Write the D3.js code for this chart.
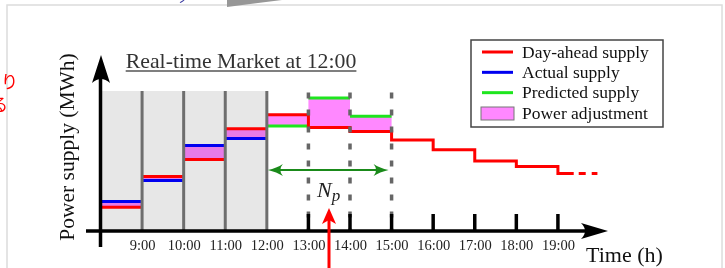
<!DOCTYPE html>
<head>
  <meta charset="utf-8">
  <title>Real-time Market</title>
  <script src="https://cdn.jsdelivr.net/npm/d3@7"></script>
  <style>
    body { margin: 0; background: #fff; }
    svg { display: block; }
    text { font-family: 'Liberation Serif', 'DejaVu Serif', serif; }
    .tick-label text { font-size: 14.5px; fill: #222; }
    .legend text { font-size: 17.5px; fill: #111; }
    .jp { font-family: 'Noto Sans CJK JP', sans-serif; font-size: 17px; fill: #f00; }
  </style>
</head>
<body>
  <script>
    // hourly slots (start hour of each slot)
    var slots = [8, 9, 10, 11, 12, 13, 14, 15, 16, 17, 18, 19];
    var tickHours = [9, 10, 11, 12, 13, 14, 15, 16, 17, 18, 19];
    var tickLabels = ["9:00", "10:00", "11:00", "12:00", "13:00", "14:00", "15:00", "16:00", "17:00", "18:00", "19:00"];

    // supply values (arbitrary MWh units)
    var dayAhead  = [17, 39, 51, 73, 83, 74, 71, 65, 58, 50, 46, 41];
    var actualHours = [8, 9, 10, 11];
    var actual    = [21, 36, 61, 66];
    var predHours = [12, 13, 14];
    var predicted = [75, 95, 82];

    var nowHour = 12;          // real-time market at 12:00
    var horizon = [12, 15];    // N_p window
    var gridHours = [13, 14, 15];
    var tickMarks = [13, 14, 15, 16, 17, 18, 19];

    var legendNames = ["Day-ahead supply", "Actual supply", "Predicted supply", "Power adjustment"];
    var legendColors = ["#f00", "#0000f0", "#1ee61e", "#ff88ff"];

    var W = 725, H = 268;
    var svg = d3.select("body").append("svg")
      .attr("width", W).attr("height", H);

    // slide frame and the bits of slide poking in
    svg.append("rect").attr("x", 7).attr("y", 5).attr("width", 715).attr("height", 300)
      .attr("fill", "#fff").attr("stroke", "#dcdcdc").attr("stroke-width", 1.5);
    svg.append("path").attr("d", "M227,0L282,0L227,7Z").attr("fill", "#979797");
    svg.append("text").attr("x", 178).attr("y", 3).attr("font-size", 12).attr("fill", "#3a3aa0")
      .style("font-family", "'Noto Sans CJK JP', sans-serif").text("ノ");
    svg.append("text").attr("class", "jp").attr("x", 18).attr("y", 88).attr("text-anchor", "end").text("より");
    svg.append("text").attr("class", "jp").attr("x", 8).attr("y", 111).attr("text-anchor", "end").text("する");

    var x = d3.scaleLinear().domain([8, 20]).range([100.5, 599.5]);
    var y = d3.scaleLinear().domain([0, 100]).range([231, 91]);

    var axisY = y(0);

    // past hours background
    svg.append("rect")
      .attr("x", x(8)).attr("y", y(100))
      .attr("width", x(nowHour) - x(8)).attr("height", y(0) - y(100))
      .attr("fill", "#e7e7e7");

    // power adjustment fills
    var adj = [];
    actualHours.forEach(function(h, i) {
      adj.push({h: h, a: actual[i], b: dayAhead[slots.indexOf(h)]});
    });
    predHours.forEach(function(h, i) {
      adj.push({h: h, a: predicted[i], b: dayAhead[slots.indexOf(h)]});
    });
    svg.append("g").selectAll("rect").data(adj).enter().append("rect")
      .attr("x", d => x(d.h)).attr("width", d => x(d.h + 1) - x(d.h))
      .attr("y", d => y(Math.max(d.a, d.b))).attr("height", d => Math.abs(y(d.a) - y(d.b)))
      .attr("fill", "#ff88ff").style("mix-blend-mode", "multiply");

    // past day-ahead and actual segments
    var past = slots.filter(h => h < nowHour);
    svg.append("g").selectAll("line").data(past).enter().append("line")
      .attr("x1", h => x(h)).attr("x2", h => x(h + 1))
      .attr("y1", h => y(dayAhead[slots.indexOf(h)])).attr("y2", h => y(dayAhead[slots.indexOf(h)]))
      .attr("stroke", "#f00").attr("stroke-width", 3);
    svg.append("g").selectAll("line").data(actualHours).enter().append("line")
      .attr("x1", h => x(h)).attr("x2", h => x(h + 1))
      .attr("y1", (h, i) => y(actual[i])).attr("y2", (h, i) => y(actual[i]))
      .attr("stroke", "#0000f0").attr("stroke-width", 3);

    // predicted segments
    svg.append("g").selectAll("line").data(predHours).enter().append("line")
      .attr("x1", h => x(h)).attr("x2", h => x(h + 1))
      .attr("y1", (h, i) => y(predicted[i])).attr("y2", (h, i) => y(predicted[i]))
      .attr("stroke", "#1ee61e").attr("stroke-width", 3);

    // future day-ahead step line
    var future = slots.filter(h => h >= nowHour && h < 19).map(h => ({h: h, v: dayAhead[slots.indexOf(h)]}));
    var lastV = dayAhead[slots.length - 1];
    future.push({h: 19, v: lastV});
    future.push({h: 19.38, v: lastV});
    var step = d3.line().x(d => x(d.h)).y(d => y(d.v)).curve(d3.curveStepAfter);
    svg.append("path").attr("d", step(future))
      .attr("fill", "none").attr("stroke", "#f00").attr("stroke-width", 3);
    svg.append("line")
      .attr("x1", x(19.38)).attr("x2", x(19.95)).attr("y1", y(lastV)).attr("y2", y(lastV))
      .attr("stroke", "#f00").attr("stroke-width", 3).attr("stroke-dasharray", "7,6").attr("stroke-dashoffset", -5);

    // hour separators in past
    svg.append("g").selectAll("line").data(slots.filter(h => h > 8 && h <= nowHour)).enter().append("line")
      .attr("x1", h => x(h)).attr("x2", h => x(h))
      .attr("y1", y(100)).attr("y2", axisY)
      .attr("stroke", "#6e6e6e").attr("stroke-width", 3);

    // dashed horizon lines
    svg.append("g").selectAll("line").data(gridHours).enter().append("line")
      .attr("x1", h => x(h)).attr("x2", h => x(h))
      .attr("y1", y(99)).attr("y2", axisY)
      .attr("stroke", "#666").attr("stroke-width", 3.5).attr("stroke-dasharray", "6,11");

    // tick marks
    svg.append("g").selectAll("line").data(tickMarks).enter().append("line")
      .attr("x1", h => x(h)).attr("x2", h => x(h))
      .attr("y1", axisY - 17).attr("y2", axisY)
      .attr("stroke", "#000").attr("stroke-width", 3.5);

    // axes
    svg.append("line").attr("x1", x(8)).attr("x2", x(8)).attr("y1", 247).attr("y2", 70)
      .attr("stroke", "#000").attr("stroke-width", 3.5);
    svg.append("path").attr("d", "M101,55L92,83Q101,75 110,83Z").attr("fill", "#000");
    svg.append("line").attr("x1", 86).attr("x2", 595).attr("y1", axisY).attr("y2", axisY)
      .attr("stroke", "#000").attr("stroke-width", 3.5);
    svg.append("path").attr("d", "M608,231L581,223Q589,231 581,239Z").attr("fill", "#000");

    var xAxis = d3.axisBottom(x).tickValues(tickHours).tickSize(0)
      .tickFormat((d, i) => tickLabels[i]);
    var xg = svg.append("g").attr("class", "tick-label")
      .attr("transform", "translate(0," + (axisY + 6) + ")").call(xAxis);
    xg.select(".domain").remove();

    svg.append("text").attr("x", 586).attr("y", 262).attr("font-size", 22).attr("fill", "#111").text("Time (h)");
    svg.append("text").attr("transform", "translate(74,147) rotate(-90)")
      .attr("text-anchor", "middle").attr("font-size", 21.5).attr("fill", "#111").text("Power supply (MWh)");

    // title
    var title = svg.append("text").attr("x", 241).attr("y", 68).attr("text-anchor", "middle")
      .attr("font-size", 21.8).attr("fill", "#333").text("Real-time Market at 12:00");
    var bb = title.node().getBBox();
    svg.append("line").attr("x1", bb.x).attr("x2", bb.x + bb.width).attr("y1", 71).attr("y2", 71)
      .attr("stroke", "#555").attr("stroke-width", 1.5);

    // N_p double arrow
    var ay = 170;
    var ax0 = x(horizon[0]) + 1, ax1 = x(horizon[1]) - 3;
    svg.append("line").attr("x1", ax0 + 6).attr("x2", ax1 - 6).attr("y1", ay).attr("y2", ay)
      .attr("stroke", "#1a8a1a").attr("stroke-width", 2);
    svg.append("path")
      .attr("d", "M" + ax0 + "," + ay + "Q" + (ax0 + 9) + "," + (ay - 2) + " " + (ax0 + 15) + "," + (ay - 6)
        + "Q" + (ax0 + 10) + "," + ay + " " + (ax0 + 15) + "," + (ay + 6) + "Q" + (ax0 + 9) + "," + (ay + 2) + " " + ax0 + "," + ay + "Z")
      .attr("fill", "#1a8a1a");
    svg.append("path")
      .attr("d", "M" + ax1 + "," + ay + "Q" + (ax1 - 9) + "," + (ay - 2) + " " + (ax1 - 15) + "," + (ay - 6)
        + "Q" + (ax1 - 10) + "," + ay + " " + (ax1 - 15) + "," + (ay + 6) + "Q" + (ax1 - 9) + "," + (ay + 2) + " " + ax1 + "," + ay + "Z")
      .attr("fill", "#1a8a1a");
    var np = svg.append("text").attr("x", 317).attr("y", 197).attr("font-size", 22)
      .attr("font-style", "italic").attr("fill", "#222").text("N");
    np.append("tspan").attr("font-size", 17).attr("dy", 4).text("p");

    // red pointer arrow
    svg.append("line").attr("x1", 329).attr("x2", 329).attr("y1", 270).attr("y2", 220)
      .attr("stroke", "#f00").attr("stroke-width", 3);
    svg.append("path").attr("d", "M329,208L322,224L329,220L336,224Z").attr("fill", "#f00");

    // legend
    var lg = svg.append("g").attr("class", "legend");
    lg.append("rect").attr("x", 471).attr("y", 40).attr("width", 192).attr("height", 87)
      .attr("fill", "#fff").attr("stroke", "#444").attr("stroke-width", 1.5);
    var ly = d3.scalePoint().domain(legendNames).range([52, 113]);
    var items = lg.selectAll("g").data(legendNames).enter().append("g")
      .attr("transform", d => "translate(0," + ly(d) + ")");
    items.filter((d, i) => i < 3).append("line")
      .attr("x1", 482).attr("x2", 513).attr("y1", 0).attr("y2", 0)
      .attr("stroke", (d, i) => legendColors[i]).attr("stroke-width", 3);
    items.filter((d, i) => i === 3).append("rect")
      .attr("x", 481).attr("y", -6).attr("width", 33).attr("height", 13)
      .attr("fill", legendColors[3]).attr("stroke", "#777").attr("stroke-width", 1);
    items.append("text").attr("x", 522).attr("y", 0).attr("dy", "0.32em").text(d => d);
  </script>
</body>
